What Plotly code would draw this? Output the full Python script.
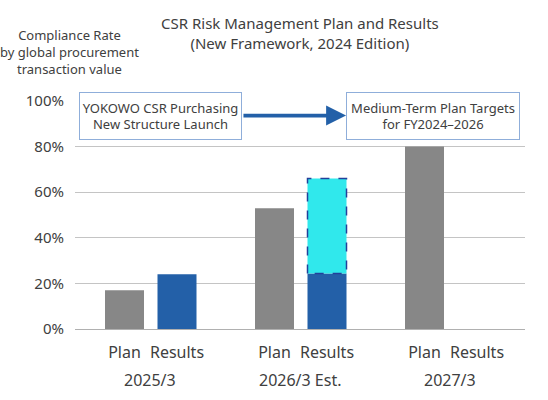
import plotly.graph_objects as go

# data
categories = ["2025/3", "2026/3 Est.", "2027/3"]
plan = [17, 53, 80]
results = [24, 24.3, None]
results_est_total = [None, 66, None]   # estimate incl. upside (dashed part)
y_ticks = [0, 20, 40, 60, 80, 100]
y_labels = ["0%", "20%", "40%", "60%", "80%", "100%"]

# bar geometry (in category units)
bar_w = 0.26
plan_off = -0.30
res_off = 0.05

GRAY = "#878787"
BLUE = "#2360A8"
CYAN = "#30E8EC"
TEXT = "#404040"
FONT = "Noto Sans"

x_idx = list(range(len(categories)))
est_extra = [None if t is None else t - r for t, r in zip(results_est_total, results)]
est_base = [r if t is not None else None for t, r in zip(results_est_total, results)]

fig = go.Figure()
fig.add_trace(go.Bar(x=x_idx, y=plan, width=bar_w, offset=plan_off,
                     marker=dict(color=GRAY, line=dict(width=0)), name="Plan"))
fig.add_trace(go.Bar(x=x_idx, y=results, width=bar_w, offset=res_off,
                     marker=dict(color=BLUE, line=dict(width=0)), name="Results"))
fig.add_trace(go.Bar(x=x_idx, y=est_extra, base=est_base, width=bar_w, offset=res_off,
                     marker=dict(color=CYAN, line=dict(width=0)), name="Estimate"))

# dashed outline around the estimated part
for i, t in enumerate(results_est_total):
    if t is None:
        continue
    x0 = i + res_off
    x1 = x0 + bar_w
    y0 = results[i]
    fig.add_trace(go.Scatter(x=[x0, x0, x1, x1, x0], y=[y0, t, t, y0, y0],
                             mode="lines", line=dict(color="#23409A", width=1.5, dash="dash"),
                             hoverinfo="skip"))

# tick labels under each bar
tickvals, ticktext = [], []
for i in x_idx:
    tickvals += [i + plan_off + bar_w / 2, i + res_off + bar_w / 2]
    ticktext += ["Plan", "Results"]

fig.update_layout(
    width=548, height=400,
    margin=dict(l=75, r=23, t=101, b=71),
    paper_bgcolor="white", plot_bgcolor="white",
    barmode="overlay", showlegend=False,
    font=dict(family=FONT, size=15, color=TEXT),
)
fig.update_xaxes(range=[-0.5, 2.5], tickvals=tickvals, ticktext=ticktext,
                 showgrid=False, zeroline=False, showline=False,
                 ticks="", ticklabelstandoff=12, tickfont=dict(size=16))
fig.update_yaxes(range=[0, 100], tickvals=y_ticks, ticktext=y_labels,
                 showgrid=True, gridcolor="#C4C4C4", gridwidth=1,
                 zeroline=True, zerolinecolor="#B0B0B0", zerolinewidth=1,
                 ticks="", ticklabelstandoff=10, tickfont=dict(size=15))

# title
fig.add_annotation(x=0.5, y=1.30, xref="paper", yref="paper", showarrow=False,
                   text="CSR Risk Management Plan and Results<br>(New Framework, 2024 Edition)",
                   xanchor="center", yanchor="middle", align="center",
                   font=dict(size=15, color=TEXT))

# year labels
for i, c in enumerate(categories):
    fig.add_annotation(x=i, y=-0.225, xref="x", yref="paper", text=c, showarrow=False,
                       yanchor="middle", font=dict(size=16, color=TEXT))

# y-axis title
fig.add_annotation(x=-0.013, y=1.215, xref="paper", yref="paper", showarrow=False,
                   text="Compliance Rate<br>by global procurement<br>transaction value",
                   xanchor="center", yanchor="middle", align="center",
                   font=dict(size=13, color=TEXT))

# framed notes and arrow
box_style = dict(showarrow=False, xref="paper", yref="y", bgcolor="white",
                 bordercolor="#8FAEDA", borderwidth=1, borderpad=0,
                 xanchor="center", yanchor="middle",
                 align="center", valign="middle", font=dict(size=13, color=TEXT))
fig.add_annotation(x=0.191, y=93.6, width=161, height=46,
                   text="YOKOWO CSR Purchasing<br>New Structure Launch", **box_style)
fig.add_annotation(x=0.7956, y=93.6, width=172, height=46,
                   text="Medium-Term Plan Targets<br>for FY2024\u20132026", **box_style)
fig.add_annotation(x=1.307, y=93.6, ax=0.613, ay=93.6, xref="x", yref="y",
                   axref="x", ayref="y", text="", showarrow=True,
                   arrowhead=2, arrowsize=1.05, arrowwidth=3.8, arrowcolor=BLUE,
                   standoff=0, startstandoff=0)

fig.write_html("out.html", config={"displayModeBar": False},
               post_script="document.body.style.margin='0';")
